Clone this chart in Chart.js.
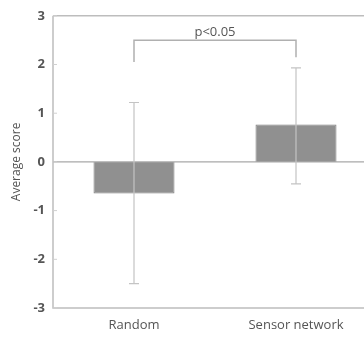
<!DOCTYPE html>
<html>
<head>
<meta charset="utf-8">
<script src="https://cdn.jsdelivr.net/npm/chart.js@4"></script>
<style>
  body { margin: 0; background: #fff; overflow: hidden; }
  #wrap { width: 380px; height: 338px; }
</style>
</head>
<body>
<div id="wrap"><canvas id="grafica" width="380" height="338"></canvas></div>
<script>
// data
var categorias = ["Random", "Sensor network"];
var medias = [-0.65, 0.77];
var errorBajo = [-2.5, -0.45];
var errorAlto = [1.22, 1.93];
var ticksY = [-3, -2, -1, 0, 1, 2, 3];
var textoP = "p<0.05";
var nivelCorchete = 2.5;
var finCorchete = [2.05, 2.15];

var gris = "#bdbdbd";

// error bars, frame and the significance bracket
var extras = {
    id: "extras",
    afterDatasetsDraw: function (chart) {
        var ctx = chart.ctx;
        var x = chart.scales.x;
        var y = chart.scales.y;
        var area = chart.chartArea;
        ctx.save();

        // frame
        ctx.strokeStyle = gris;
        ctx.lineWidth = 1.5;
        ctx.beginPath();
        ctx.moveTo(area.left, area.top);
        ctx.lineTo(area.right, area.top);
        ctx.moveTo(area.left, area.top);
        ctx.lineTo(area.left, area.bottom);
        ctx.lineTo(area.right, area.bottom);
        ctx.stroke();

        // zero line
        ctx.lineWidth = 1.2;
        ctx.strokeStyle = "#a8a8a8";
        ctx.beginPath();
        ctx.moveTo(area.left, y.getPixelForValue(0));
        ctx.lineTo(area.right, y.getPixelForValue(0));
        ctx.stroke();

        // small inner ticks
        ctx.strokeStyle = "#d0d0d0";
        ctx.lineWidth = 1;
        ctx.beginPath();
        for (var t = 0; t < ticksY.length; t++) {
            var ty = y.getPixelForValue(ticksY[t]);
            ctx.moveTo(area.left, ty);
            ctx.lineTo(area.left + 4, ty);
        }
        ctx.stroke();

        // error bars
        ctx.strokeStyle = "#c4c4c4";
        ctx.lineWidth = 1.2;
        for (var i = 0; i < categorias.length; i++) {
            var cx = x.getPixelForValue(i);
            var yb = y.getPixelForValue(errorBajo[i]);
            var ya = y.getPixelForValue(errorAlto[i]);
            ctx.beginPath();
            ctx.moveTo(cx, yb);
            ctx.lineTo(cx, ya);
            ctx.moveTo(cx - 5, yb);
            ctx.lineTo(cx + 5, yb);
            ctx.moveTo(cx - 5, ya);
            ctx.lineTo(cx + 5, ya);
            ctx.stroke();
        }

        // bracket
        var x1 = x.getPixelForValue(0);
        var x2 = x.getPixelForValue(1);
        var yc = y.getPixelForValue(nivelCorchete);
        ctx.strokeStyle = "#b0b0b0";
        ctx.lineWidth = 1.5;
        ctx.beginPath();
        ctx.moveTo(x1, y.getPixelForValue(finCorchete[0]));
        ctx.lineTo(x1, yc);
        ctx.lineTo(x2, yc);
        ctx.lineTo(x2, y.getPixelForValue(finCorchete[1]));
        ctx.stroke();

        ctx.fillStyle = "#555";
        ctx.font = "13px 'Open Sans'";
        ctx.textAlign = "center";
        ctx.textBaseline = "bottom";
        ctx.fillText(textoP, (x1 + x2) / 2, yc - 1);

        ctx.restore();
    }
};

var miCanvas = document.getElementById("grafica").getContext("2d");

var chart = new Chart(miCanvas, {
    type: "bar",
    data: {
        labels: categorias,
        datasets: [
            {
                label: "Average score",
                backgroundColor: "#909090",
                borderColor: "#7e7e7e",
                borderWidth: 1,
                data: medias,
                barPercentage: 0.5,
                categoryPercentage: 1
            }
        ]
    },
    options: {
        responsive: false,
        animation: false,
        layout: { padding: { top: 13, left: 0, right: 3, bottom: 0 } },
        plugins: {
            legend: { display: false },
            tooltip: { enabled: false }
        },
        scales: {
            x: {
                grid: { display: false },
                border: { display: false },
                ticks: { color: "#555", font: { family: "Open Sans", size: 13 }, padding: 1 },
                afterFit: function (axis) { axis.height = 30; }
            },
            y: {
                min: -3,
                max: 3,
                afterBuildTicks: function (axis) {
                    axis.ticks = ticksY.map(function (v) { return { value: v }; });
                },
                grid: { display: false, drawTicks: false },
                border: { display: false },
                ticks: {
                    color: "#555",
                    font: { family: "Open Sans", size: 13, weight: "bold" },
                    padding: 8
                },
                title: {
                    display: true,
                    text: "Average score",
                    color: "#555",
                    font: { family: "Open Sans", size: 12 },
                    padding: { top: 9, bottom: 0 }
                },
                afterFit: function (axis) { axis.width = 53; }
            }
        }
    },
    plugins: [extras]
});
</script>
</body>
</html>
